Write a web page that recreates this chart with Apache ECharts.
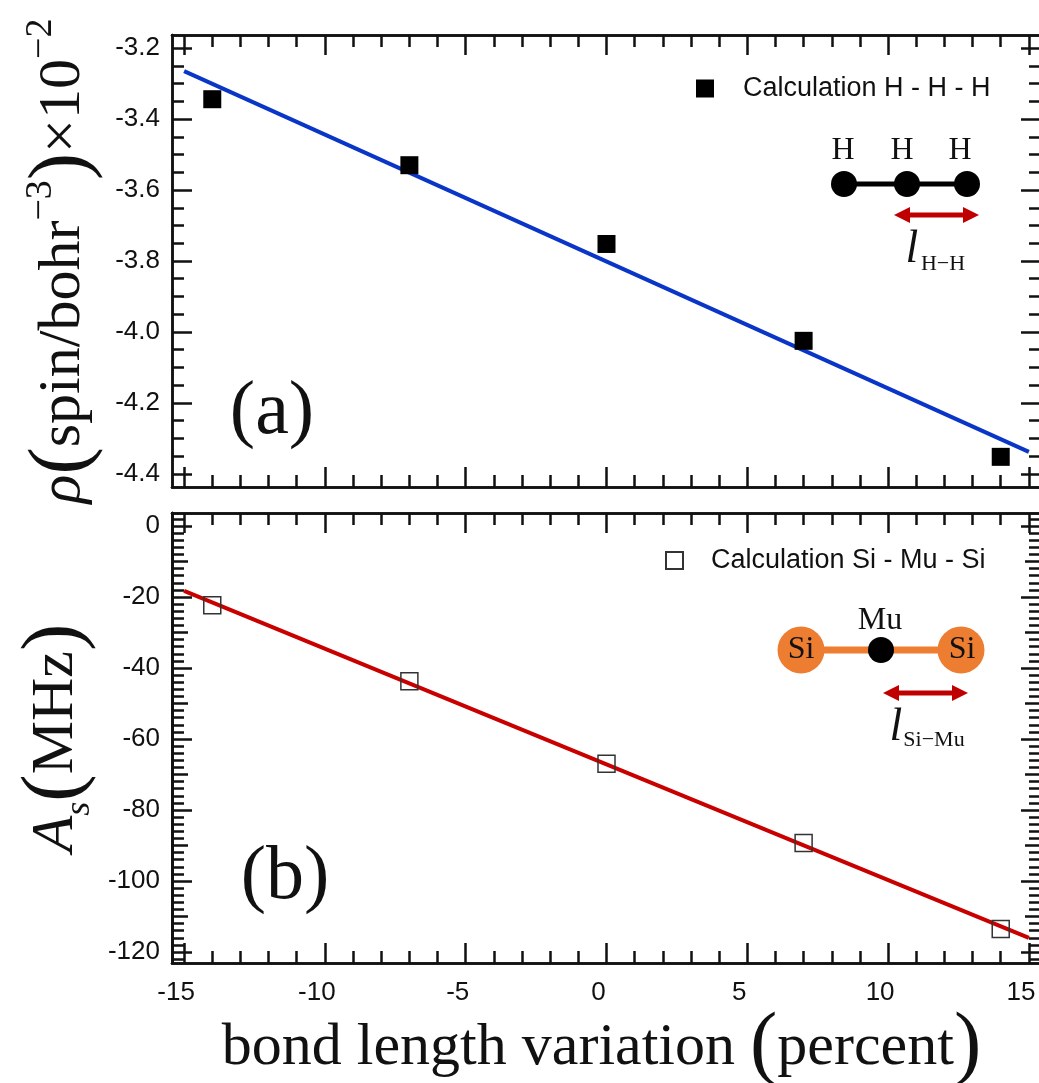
<!DOCTYPE html>
<html>
<head>
<meta charset="utf-8">
<title>bond length variation</title>
<style>
html,body{margin:0;padding:0;background:#fff;overflow:hidden}
#chart{width:1039px;height:1083px}
</style>
</head>
<body>
<div id="chart"></div>
<script src="https://cdn.jsdelivr.net/npm/echarts@6/dist/echarts.min.js"></script>
<script>
// values
var variation = [-14, -7, 0, 7, 14];
var spinDensity = [-3.344, -3.53, -3.752, -4.025, -4.352];
var hyperfine = [-22.3, -43.7, -67.0, -89.3, -113.5];

var fitX = [-15, 15];
var fitSpin = [-3.265, -4.338];
var fitHyperfine = [-18.3, -116];

var xMajor = [-15, -10, -5, 0, 5, 10, 15];
var xMinor = [-14, -13, -12, -11, -9, -8, -7, -6, -4, -3, -2, -1, 1, 2, 3, 4, 6, 7, 8, 9, 11, 12, 13, 14];
var spinMajor = [-4.4, -4.2, -4.0, -3.8, -3.6, -3.4, -3.2];
var spinMinor = [-4.35, -4.3, -4.25, -4.15, -4.1, -4.05, -3.95, -3.9, -3.85, -3.75, -3.7, -3.65, -3.55, -3.5, -3.45, -3.35, -3.3, -3.25];
var hyperfineMajor = [-120, -100, -80, -60, -40, -20, 0];
var hyperfineMid = [-110, -90, -70, -50, -30, -10];
var hyperfineMinor = [-122, -118, -116, -114, -112, -108, -106, -104, -102, -98, -96, -94, -92, -88, -86, -84, -82, -78, -76, -74, -72, -68, -66, -64, -62, -58, -56, -54, -52, -48, -46, -44, -42, -38, -36, -34, -32, -28, -26, -24, -22, -18, -16, -14, -12, -8, -6, -4, -2, 2];

var nameTop = 'Calculation H - H - H';
var nameBottom = 'Calculation Si - Mu - Si';

var serif = '"Liberation Serif"';
var sans = '"Liberation Sans"';
var ink = '#111';
var xRange = [-15.43, 15.43];
var spinRange = [-4.437, -3.163];
var hyperfineRange = [-123.1, 3.66];

function xAxisFor(grid, position, ticks, len, extra) {
	return Object.assign({
		type: 'value', gridIndex: grid, position: position, min: xRange[0], max: xRange[1],
		axisLine: {onZero: false, lineStyle: {color: ink, width: 2.5}},
		axisTick: {inside: true, length: len, customValues: ticks, lineStyle: {color: ink, width: 2.5}},
		axisLabel: {show: false}, splitLine: {show: false}
	}, extra || {});
}
function yAxisFor(grid, position, range, ticks, len, extra) {
	return Object.assign({
		type: 'value', gridIndex: grid, position: position, min: range[0], max: range[1],
		axisLine: {onZero: false, lineStyle: {color: ink, width: 2.5}},
		axisTick: {inside: true, length: len, customValues: ticks, lineStyle: {color: ink, width: 2.5}},
		axisLabel: {show: false}, splitLine: {show: false}
	}, extra || {});
}
function xLabels() {
	return {show: true, customValues: xMajor, color: ink, fontFamily: sans, fontSize: 26, margin: 17, padding: [0, 16, 0, 0]};
}
function yLabels(values, digits) {
	return {
		show: true, customValues: values, color: ink, fontFamily: sans, fontSize: 26, margin: 12,
		formatter: function (v) { return Number(v).toFixed(digits); }
	};
}

var bigText = {fontFamily: serif, fontSize: 60, color: ink};
var parens = {fontFamily: serif, fontSize: 82, color: ink};

var xAxes = [
	xAxisFor(0, 'bottom', xMajor, 20),
	xAxisFor(0, 'bottom', xMinor, 12),
	xAxisFor(0, 'top', xMajor, 20),
	xAxisFor(0, 'top', xMinor, 12),
	xAxisFor(1, 'bottom', xMajor, 20, {
		axisLabel: xLabels(),
		name: '{t|bond length variation }{p|(}{t|percent}{p|)}',
		nameLocation: 'middle', nameGap: 42,
		nameTextStyle: {padding: [0, 10, 0, 0], rich: {
			t: bigText,
			p: parens
		}}
	}),
	xAxisFor(1, 'bottom', xMinor, 12),
	xAxisFor(1, 'top', xMajor, 20),
	xAxisFor(1, 'top', xMinor, 12)
];

var yAxes = [
	yAxisFor(0, 'left', spinRange, spinMajor, 20, {
		axisLabel: yLabels(spinMajor, 1),
		name: '{i|ρ}{p|(}{t|spin/bohr}{s|−3}{p|)}{t|×10}{s|−2}',
		nameLocation: 'middle', nameRotate: 90, nameGap: 68,
		nameTextStyle: {rich: {
			i: {fontFamily: serif, fontStyle: 'italic', fontSize: 60, color: ink},
			t: bigText,
			p: parens,
			s: {fontFamily: serif, fontSize: 38, color: ink, verticalAlign: 'top'}
		}}
	}),
	yAxisFor(0, 'left', spinRange, spinMinor, 12),
	yAxisFor(0, 'right', spinRange, spinMajor, 20),
	yAxisFor(0, 'right', spinRange, spinMinor, 12),
	yAxisFor(1, 'left', hyperfineRange, hyperfineMajor, 20, {
		axisLabel: yLabels(hyperfineMajor, 0),
		name: '{i|A}{b|s}{p|(}{t|MHz}{p|)}',
		nameLocation: 'middle', nameRotate: 90, nameGap: 68,
		nameTextStyle: {rich: {
			i: {fontFamily: serif, fontStyle: 'italic', fontSize: 60, color: ink},
			t: bigText,
			p: parens,
			b: {fontFamily: serif, fontStyle: 'italic', fontSize: 36, color: ink, verticalAlign: 'bottom'}
		}}
	}),
	yAxisFor(1, 'left', hyperfineRange, hyperfineMid, 16),
	yAxisFor(1, 'left', hyperfineRange, hyperfineMinor, 12),
	yAxisFor(1, 'right', hyperfineRange, hyperfineMajor, 20),
	yAxisFor(1, 'right', hyperfineRange, hyperfineMid, 16),
	yAxisFor(1, 'right', hyperfineRange, hyperfineMinor, 12)
];

function pairs(xs, ys) {
	return xs.map(function (x, i) { return [x, ys[i]]; });
}

function label(text, x, y, size, extra) {
	return {
		type: 'text', x: x, y: y, z: 20,
		style: Object.assign({text: text, fill: ink, fontFamily: serif, fontSize: size, align: 'center', verticalAlign: 'middle'}, extra || {})
	};
}
function dot(x, y, r, color) {
	return {type: 'circle', z: 15, shape: {cx: x, cy: y, r: r}, style: {fill: color}};
}
function bond(x1, x2, y, width, color) {
	return {type: 'line', z: 14, shape: {x1: x1, y1: y, x2: x2, y2: y}, style: {stroke: color, lineWidth: width}};
}
function arrow(x1, x2, y) {
	var h = 16, w = 8, s = 2.5;
	return {
		type: 'polygon', z: 15,
		shape: {points: [[x1, y], [x1 + h, y - w], [x1 + h, y - s], [x2 - h, y - s], [x2 - h, y - w], [x2, y], [x2 - h, y + w], [x2 - h, y + s], [x1 + h, y + s], [x1 + h, y + w]]},
		style: {fill: '#c00000'}
	};
}

var orange = '#ed7d31';
var sketches = [
	label('(a)', 272, 413, 76),
	label('(b)', 285, 878, 76),

	bond(844, 967, 184, 5, '#000'),
	dot(844, 184, 13, '#000'), dot(907, 184, 13, '#000'), dot(967, 184, 13, '#000'),
	label('H', 843, 151, 32), label('H', 902, 151, 32), label('H', 960, 151, 32),
	arrow(894, 979, 215),
	label('l', 912, 250, 46, {fontStyle: 'italic'}),
	label('H−H', 943, 264, 22),

	bond(801, 961, 650, 7, orange),
	dot(801, 650, 23.5, orange), dot(961, 650, 23.5, orange), dot(881, 650, 13, '#000'),
	label('Si', 801, 650, 32), label('Si', 962, 650, 32),
	label('Mu', 880, 621, 32),
	arrow(883, 968, 693),
	label('l', 896, 728, 46, {fontStyle: 'italic'}),
	label('Si−Mu', 934, 740, 22)
];

var option = {
	animation: false,
	backgroundColor: '#fff',
	grid: [
		{left: 172, top: 35, width: 869, height: 452, outerBoundsMode: 'none'},
		{left: 172, top: 513, width: 869, height: 450, outerBoundsMode: 'none'}
	],
	xAxis: xAxes,
	yAxis: yAxes,
	legend: [
		{
			data: [nameTop], left: 691, top: 70, itemWidth: 18, itemHeight: 18, selectedMode: false,
			textStyle: {fontFamily: sans, fontSize: 27, color: ink, padding: [0, 0, 0, 24]}
		},
		{
			data: [nameBottom], left: 660, top: 542, itemWidth: 17, itemHeight: 17, selectedMode: false,
			textStyle: {fontFamily: sans, fontSize: 27, color: ink, padding: [0, 0, 0, 23]}
		}
	],
	series: [
		{
			type: 'line', xAxisIndex: 0, yAxisIndex: 0, data: pairs(fitX, fitSpin), symbol: 'none',
			lineStyle: {color: '#0a36c8', width: 4}, z: 3
		},
		{
			name: nameTop, type: 'scatter', xAxisIndex: 0, yAxisIndex: 0, data: pairs(variation, spinDensity),
			symbol: 'rect', symbolSize: 18, itemStyle: {color: '#000', opacity: 1}, z: 4
		},
		{
			type: 'line', xAxisIndex: 4, yAxisIndex: 4, data: pairs(fitX, fitHyperfine), symbol: 'none',
			lineStyle: {color: '#c80000', width: 4}, z: 3
		},
		{
			name: nameBottom, type: 'scatter', xAxisIndex: 4, yAxisIndex: 4, data: pairs(variation, hyperfine),
			symbol: 'rect', symbolSize: 17, itemStyle: {color: 'rgba(255,255,255,0)', borderColor: '#333', borderWidth: 1.5, opacity: 1}, z: 4
		}
	],
	graphic: sketches
};

var myChart = echarts.init(document.getElementById('chart'));
myChart.setOption(option);
</script>
</body>
</html>
